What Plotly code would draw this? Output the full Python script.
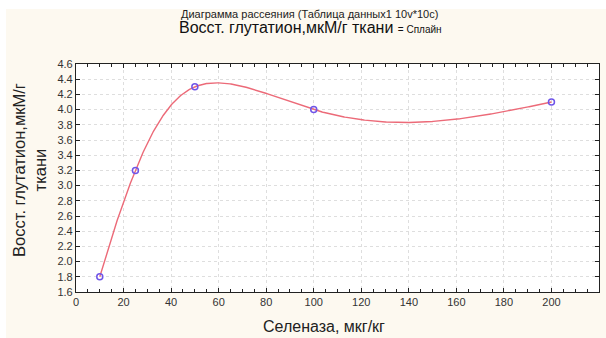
import numpy as np
import plotly.graph_objects as go

# Measured points
selenase = [10, 25, 50, 100, 200]
glutathione = [1.8, 3.2, 4.3, 4.0, 4.1]

x_ticks = list(range(0, 221, 20))
y_ticks = [round(1.6 + 0.2 * i, 1) for i in range(16)]

W, H = 606, 338
L, R, T, B = 76, 7, 64, 46
pw, ph = W - L - R, H - T - B
X_RANGE = [0, 220]
Y_RANGE = [1.6, 4.6]


def natural_spline(tk, vk, ts):
    """Natural cubic spline through (tk, vk), evaluated at ts."""
    tk = np.asarray(tk, float)
    vk = np.asarray(vk, float)
    n = len(tk)
    h = np.diff(tk)
    A = np.zeros((n, n))
    b = np.zeros(n)
    A[0, 0] = A[-1, -1] = 1.0
    for i in range(1, n - 1):
        A[i, i - 1] = h[i - 1]
        A[i, i] = 2 * (h[i - 1] + h[i])
        A[i, i + 1] = h[i]
        b[i] = 3 * ((vk[i + 1] - vk[i]) / h[i] - (vk[i] - vk[i - 1]) / h[i - 1])
    c = np.linalg.solve(A, b)
    out = []
    for t in ts:
        i = min(max(np.searchsorted(tk, t) - 1, 0), n - 2)
        dt = t - tk[i]
        bi = (vk[i + 1] - vk[i]) / h[i] - h[i] * (2 * c[i] + c[i + 1]) / 3
        di = (c[i + 1] - c[i]) / (3 * h[i])
        out.append(vk[i] + bi * dt + c[i] * dt ** 2 + di * dt ** 3)
    return np.array(out)


# Parametric spline, chord-length parameter measured in screen units
sx = pw / (X_RANGE[1] - X_RANGE[0])
sy = ph / (Y_RANGE[1] - Y_RANGE[0])
px = np.array(selenase, float) * sx
py = np.array(glutathione, float) * sy
t = np.concatenate([[0.0], np.cumsum(np.hypot(np.diff(px), np.diff(py)))])
ts = np.linspace(0, t[-1], 600)
curve_x = natural_spline(t, px, ts) / sx
curve_y = natural_spline(t, py, ts) / sy


def px_x(p):
    return (p - L) / pw


def px_y(p):
    return (H - B - p) / ph


fig = go.Figure()
fig.add_trace(go.Scatter(
    x=curve_x, y=curve_y, mode="lines",
    line=dict(color="#ec6a78", width=1.4),
    hoverinfo="skip", showlegend=False,
))
fig.add_trace(go.Scatter(
    x=selenase, y=glutathione, mode="markers",
    marker=dict(symbol="circle-open", size=6, color="#6f55e8",
                line=dict(width=1.5, color="#6f55e8")),
    showlegend=False,
))

axis_common = dict(
    showline=True, linecolor="#222", linewidth=1.2, mirror="allticks",
    ticks="inside", ticklen=4, tickwidth=1, tickcolor="#222",
    showgrid=True, gridcolor="#dedede", griddash="dot", gridwidth=1,
    zeroline=False,
    tickfont=dict(family="Liberation Sans, Arial", size=11, color="#333"),
)

fig.update_xaxes(
    range=X_RANGE, tickvals=x_ticks, ticktext=[str(v) for v in x_ticks],
    minor=dict(dtick=5, ticks="inside", ticklen=2.5, tickcolor="#222", showgrid=False),
    **axis_common,
)
fig.update_yaxes(
    range=Y_RANGE, tickvals=y_ticks, ticktext=[f"{v:.1f}" for v in y_ticks],
    **axis_common,
)

fig.update_layout(
    width=W, height=H,
    margin=dict(l=L, r=R, t=T, b=B),
    paper_bgcolor="white",
    plot_bgcolor="rgba(0,0,0,0)",
    shapes=[
        dict(type="rect", xref="paper", yref="paper", layer="below",
             x0=px_x(6), x1=px_x(W), y0=px_y(H), y1=px_y(9),
             fillcolor="#fdf9f0", line=dict(width=0)),
        dict(type="rect", xref="paper", yref="paper", layer="below",
             x0=0, x1=1, y0=0, y1=1,
             fillcolor="white", line=dict(width=0)),
    ],
    annotations=[
        dict(text="Диаграмма рассеяния (Таблица данных1 10v*10c)",
             xref="paper", yref="paper", x=px_x(309), y=px_y(14),
             xanchor="center", yanchor="middle", showarrow=False,
             font=dict(family="Liberation Sans, Arial", size=11, color="#222")),
        dict(text="Восст. глутатион,мкМ/г ткани <span style='font-size:10px'>= Сплайн</span>",
             xref="paper", yref="paper", x=px_x(310), y=px_y(28),
             xanchor="center", yanchor="middle", showarrow=False,
             font=dict(family="Liberation Sans, Arial", size=16, color="#111")),
        dict(text="Восст. глутатион,мкМ/г<br>ткани",
             xref="paper", yref="paper", x=px_x(29), y=px_y(170),
             xanchor="center", yanchor="middle", showarrow=False, textangle=-90,
             font=dict(family="Liberation Sans, Arial", size=16.5, color="#222")),
        dict(text="Селеназа, мкг/кг",
             xref="paper", yref="paper", x=px_x(324), y=px_y(326),
             xanchor="center", yanchor="middle", showarrow=False,
             font=dict(family="Liberation Sans, Arial", size=16, color="#222")),
    ],
)

fig.write_html("out.html")
